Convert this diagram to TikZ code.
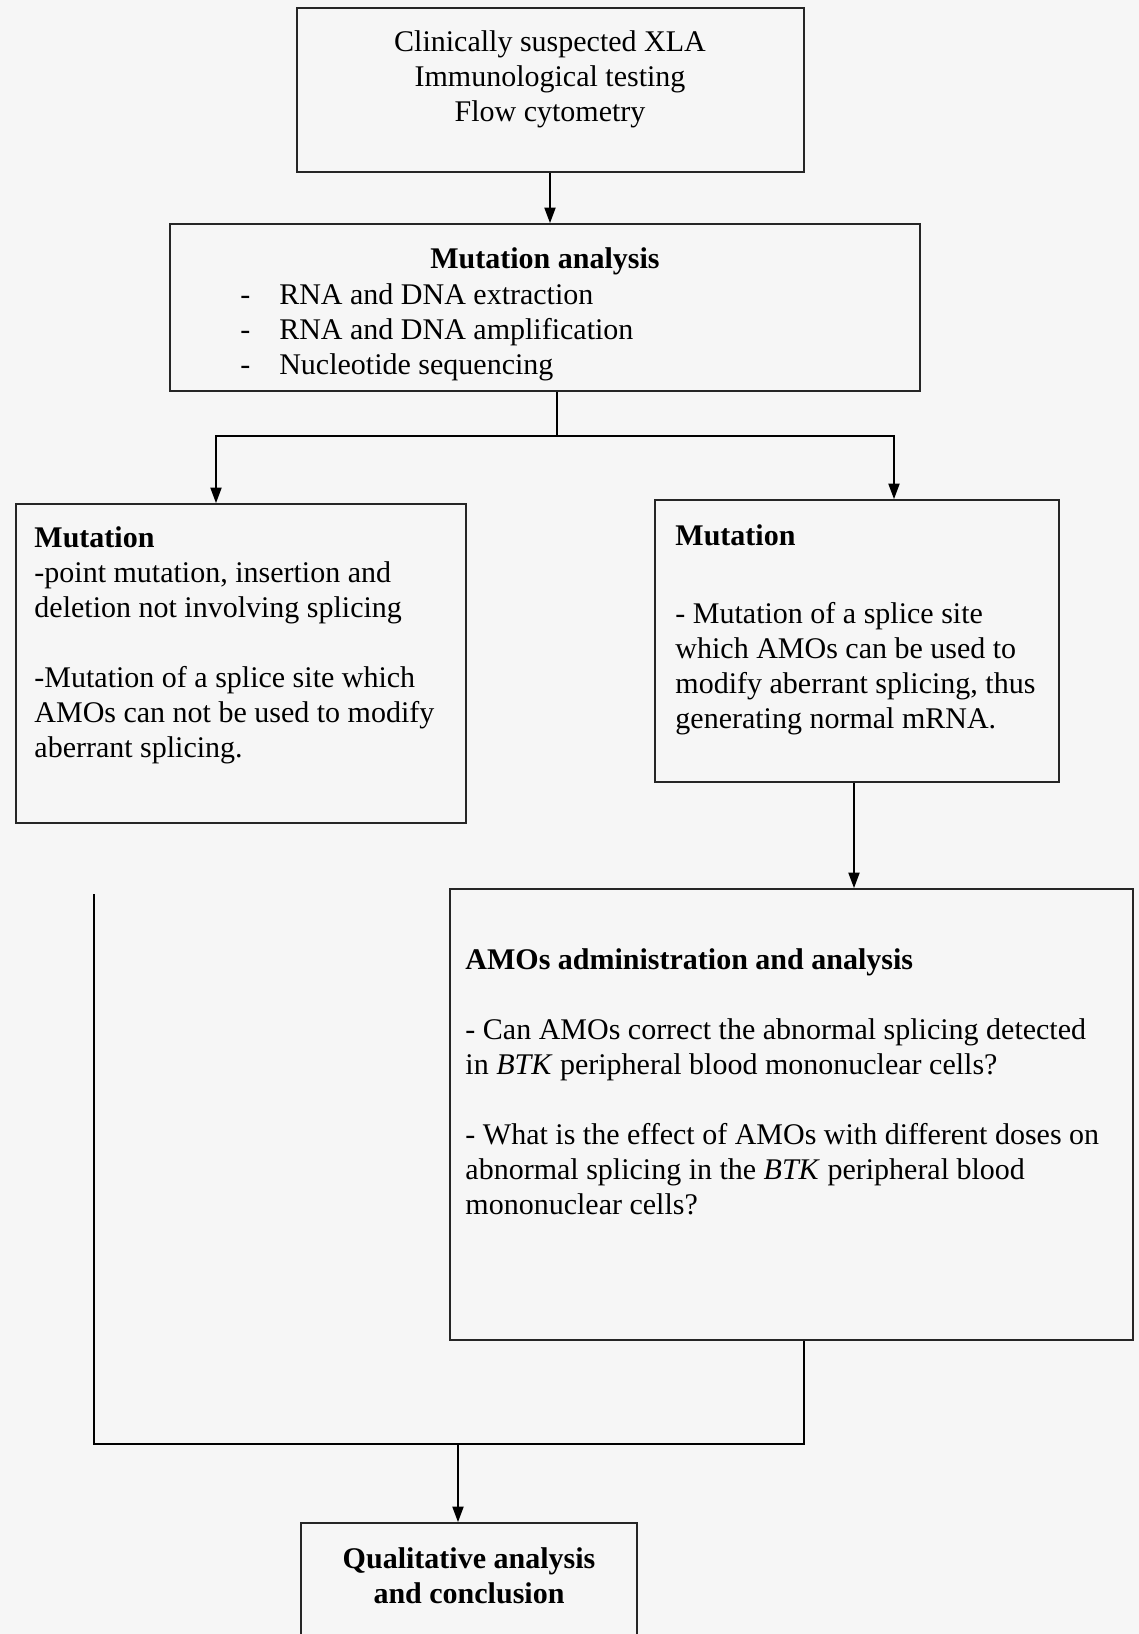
\documentclass[tikz,border=0pt]{standalone}
\usepackage{fontspec}
\setmainfont{Liberation Serif}
\usetikzlibrary{arrows.meta,positioning,calc,fit}

\begin{document}
\begin{tikzpicture}[
x=0.45pt, y=-0.45pt,
boxnode/.style={draw=black!85, line width=0.8pt, inner sep=0pt},
txtnode/.style={inner sep=0pt, font=\fontsize{13.5}{15.75}\selectfont, align=left},
arr/.style={-{Triangle[length=7pt,width=5pt]}},
]
\fill[gray!7] (0,0) rectangle (1139,1634);
\useasboundingbox (0,0) rectangle (1139,1634);

% boxes
\node[boxnode, fit={(297,8) (804,172)}] (top) {};
\node[boxnode, fit={(170,224) (920,391)}] (ana) {};
\node[boxnode, fit={(16,504) (466,823)}] (mutL) {};
\node[boxnode, fit={(655,500) (1059,782)}] (mutR) {};
\node[boxnode, fit={(450,889) (1133,1340)}] (amo) {};
\node[boxnode, fit={(301,1523) (637,1700)}] (out) {};

% texts (anchored at the baseline of their last line)
\node[txtnode, align=center, anchor=base] (topT) at (550,121)
  {Clinically suspected XLA\\Immunological testing\\Flow cytometry};
\node[txtnode, anchor=base] (anaT) at (545,268) {\textbf{Mutation analysis}};
\node[txtnode, anchor=base west] (anaL) at (240,374)
  {\makebox[17.5pt][l]{-}RNA and DNA extraction\\
   \makebox[17.5pt][l]{-}RNA and DNA amplification\\
   \makebox[17.5pt][l]{-}Nucleotide sequencing};
\node[txtnode, anchor=base west] (mutLT) at (34,757)
  {\textbf{Mutation}\\
   -point mutation, insertion and\\
   deletion not involving splicing\\[15.75pt]
   -Mutation of a splice site which\\
   AMOs can not be used to modify\\
   aberrant splicing.};
\node[txtnode, anchor=base west] (mutRT) at (675,728)
  {\textbf{Mutation}\\[19pt]
   - Mutation of a splice site\\
   which AMOs can be used to\\
   modify aberrant splicing, thus\\
   generating normal mRNA.};
\node[txtnode, anchor=base west] (amoT) at (465,1214)
  {\textbf{AMOs administration and analysis}\\[15.75pt]
   - Can AMOs correct the abnormal splicing detected\\
   in \textit{BTK} peripheral blood mononuclear cells?\\[15.75pt]
   - What is the effect of AMOs with different doses on\\
   abnormal splicing in the \textit{BTK} peripheral blood\\
   mononuclear cells?};
\node[txtnode, align=center, anchor=base] (outT) at (469,1603)
  {\textbf{Qualitative analysis}\\\textbf{and conclusion}};

% connectors
\coordinate (br) at (557,436);
\coordinate (brL) at (216,436);
\coordinate (brR) at (894,436);
\coordinate (dR) at (854,800);
\coordinate (lft) at (94,894);
\coordinate (jn) at (458,1444);
\coordinate (jnR) at (804,1444);
\draw[line width=0.8pt, arr] (top.south -| 550,0) -- (ana.north -| 550,0);
\draw[line width=0.8pt] (ana.south -| br) -- (br);
\draw[line width=0.8pt, arr] (br) -- (brL) -- (brL |- mutL.north);
\draw[line width=0.8pt, arr] (br) -- (brR) -- (brR |- mutR.north);
\draw[line width=0.8pt, arr] (mutR.south -| dR) -- (amo.north -| dR);
\draw[line width=0.8pt] (lft) -- (lft |- jn) -- (jnR) -- (jnR |- amo.south);
\draw[line width=0.8pt, arr] (jn) -- (jn |- out.north);
\end{tikzpicture}
\end{document}
